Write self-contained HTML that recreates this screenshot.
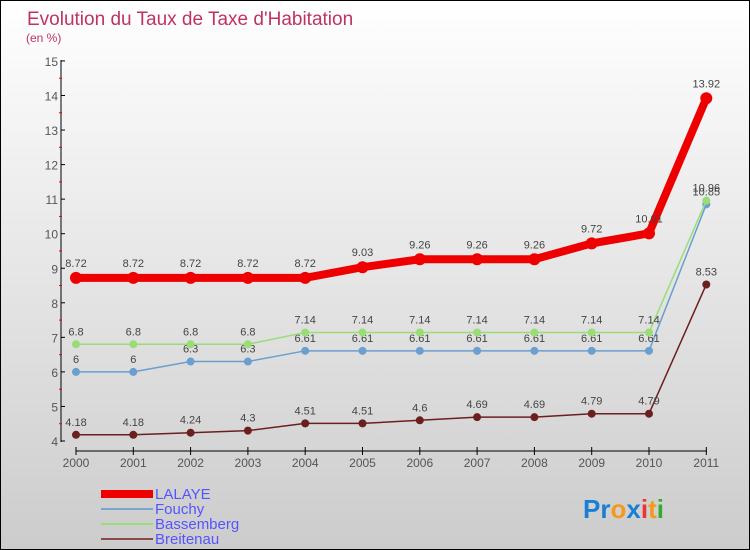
<!DOCTYPE html>
<html><head><meta charset="utf-8"><style>
body{margin:0}
#c{width:750px;height:550px;position:relative;background:linear-gradient(#fff,#ccc);border:1px solid #000;box-sizing:border-box;font-family:"Liberation Sans",sans-serif}
</style></head><body>
<div id="c">
<svg id="s" width="748" height="548" xmlns="http://www.w3.org/2000/svg" style="position:absolute;left:0;top:0">
<text x="26" y="24" font-size="19" fill="#c0335f">Evolution du Taux de Taxe d'Habitation</text>
<text x="25" y="41" font-size="12" fill="#c0335f">(en %)</text>
<g id="axes"></g><g id="series"></g>
<g>
<rect x="100" y="489" width="52" height="8" fill="#e00"/>
<text x="154" y="498" font-size="15" fill="#55f">LALAYE</text>
<line x1="100" y1="508" x2="152" y2="508" stroke="#7aa6cc" stroke-width="2"/>
<text x="154" y="513" font-size="15" fill="#55f">Fouchy</text>
<line x1="100" y1="523" x2="152" y2="523" stroke="#99dd77" stroke-width="2"/>
<text x="154" y="528" font-size="15" fill="#55f">Bassemberg</text>
<line x1="100" y1="538" x2="152" y2="538" stroke="#8a4a4a" stroke-width="2"/>
<text x="154" y="543" font-size="15" fill="#55f">Breitenau</text>
</g>
<text x="582" y="517" font-size="26" font-weight="bold"><tspan fill="#1a7fd4">Pr</tspan><tspan fill="#f39a1a">o</tspan><tspan fill="#1a7fd4">x</tspan><tspan fill="#e33">i</tspan><tspan fill="#f39a1a">t</tspan><tspan fill="#3a3">i</tspan></text>
</svg>
</div>
<script>
const years=["2000","2001","2002","2003","2004","2005","2006","2007","2008","2009","2010","2011"];
const lalaye=[8.72,8.72,8.72,8.72,8.72,9.03,9.26,9.26,9.26,9.72,10.01,13.92];
const fouchy=[6,6,6.3,6.3,6.61,6.61,6.61,6.61,6.61,6.61,6.61,10.85];
const bassemberg=[6.8,6.8,6.8,6.8,7.14,7.14,7.14,7.14,7.14,7.14,7.14,10.96];
const breitenau=[4.18,4.18,4.24,4.3,4.51,4.51,4.6,4.69,4.69,4.79,4.79,8.53];
const yTicks=[4,5,6,7,8,9,10,11,12,13,14,15];
const NS="http://www.w3.org/2000/svg";
const X=i=>75+i*57.3, Y=v=>440-(v-4)*34.55;
function mk(t,a,p){const e=document.createElementNS(NS,t);for(const k in a)e.setAttribute(k,a[k]);p.appendChild(e);return e;}
const ax=document.getElementById('axes');
let l=mk('line',{x1:60,y1:59,x2:60,y2:441,stroke:'#000'},ax);


l=mk('line',{x1:75,y1:450,x2:706,y2:450,stroke:'#000'},ax);


yTicks.forEach(v=>{
  mk('line',{x1:60,y1:Y(v),x2:64,y2:Y(v),stroke:'#000'},ax);
  if(v<15)mk('line',{x1:58,y1:Y(v+0.5),x2:61,y2:Y(v+0.5),stroke:'#e00'},ax);
  const t=mk('text',{x:57,y:Y(v)+5,'font-size':12,fill:'#555','text-anchor':'end'},ax);t.textContent=v;
  
  
});
years.forEach((y,i)=>{
  mk('line',{x1:X(i),y1:446,x2:X(i),y2:454,stroke:'#000'},ax);
  const t=mk('text',{x:X(i),y:466,'font-size':12,fill:'#555','text-anchor':'middle'},ax);t.textContent=y;
  
  
});
const sg=document.getElementById('series');
function draw(d,color,w,r,name){
  const g=mk('g',{},sg);
  
  
  mk('polyline',{points:d.map((v,i)=>X(i)+','+Y(v)).join(' '),fill:'none',stroke:color,'stroke-width':w},g);
  d.forEach((v,i)=>{
    const c=mk('circle',{cx:X(i),cy:Y(v),r:r,fill:color},g);
    
    
    const t=mk('text',{x:X(i),y:Y(v)-r-5,'font-size':11,fill:'#444','text-anchor':'middle'},g);t.textContent=v;
    
    
  });
}
draw(breitenau,'#6b1f1f',1.5,4,'breitenau');
draw(fouchy,'#6a9fcf',1.5,4,'fouchy');
draw(bassemberg,'#99dd77',1.5,4,'bassemberg');
draw(lalaye,'#ee0000',8,6,'lalaye');
</script>
</body></html>
